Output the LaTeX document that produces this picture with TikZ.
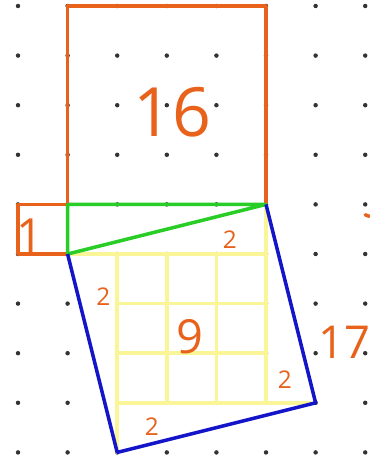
\documentclass[tikz,border=0pt]{standalone}
\usepackage{fontspec}
\setmainfont{Open Sans}

\definecolor{pen orange}{RGB}{232,98,28}
\definecolor{pen green}{RGB}{40,205,40}
\definecolor{pen blue}{RGB}{20,20,200}
\definecolor{pen yellow}{RGB}{250,245,150}

\tikzset{
  orangeline/.style={draw=pen orange, line width=2pt, line join=round},
  greenline/.style={draw=pen green, line width=2pt, line join=round},
  blueline/.style={draw=pen blue, line width=2pt, line join=round},
  yellowline/.style={draw=pen yellow, line width=2pt, line cap=round},
  areanum/.style={text=pen orange, inner sep=0pt}
}

\begin{document}
\begin{tikzpicture}[x=1cm, y=-1cm]
    % Okraje obrazku
    \useasboundingbox (-0.363,-0.121) rectangle (7.077,9.153);
    \fill[white] (-0.363,-0.121) rectangle (7.077,9.153);

    % Teckovana mrizka
    \foreach \i in {0,...,7}
        \foreach \j in {0,...,9}
            \fill[black!80] (\i,\j) circle (0.045);

    % Vrcholy trojuhelniku a ctvercu
    \coordinate (A) at (1,4);
    \coordinate (B) at (5,4);
    \coordinate (C) at (1,5);
    \coordinate (D) at (2,9);
    \coordinate (E) at (6,8);

    % Zluta sit uvnitr sikmeho ctverce
    \draw[yellowline] (C) -- (5,5);
    \draw[yellowline] (5,4.1) -- (5,8);
    \draw[yellowline] (2,8) -- (5.9,8);
    \draw[yellowline] (2,5) -- (D);
    \foreach \k in {3,4}
        \draw[yellowline] (\k,5) -- (\k,8);
    \foreach \k in {6,7}
        \draw[yellowline] (2,\k) -- (5,\k);

    % Ctverec nad delsi odvesnou
    \draw[orangeline] (A) -- (1,0) -- (5,0) -- (B);
    % Ctverec nad kratsi odvesnou
    \draw[orangeline] (A) -- (0,4) -- (0,5) -- (C);

    % Pravouhly trojuhelnik
    \draw[greenline] (A) -- (B) -- (C) -- cycle;

    % Ctverec nad preponou
    \draw[blueline] (B) -- (E) -- (D) -- (C);

    % Obsahy
    \node[areanum, font=\fontsize{39}{39}\selectfont] (n16) at (3.12,2.14) {16};
    \node[areanum, font=\fontsize{27}{27}\selectfont] (n1) at (0.25,4.63) {1};
    \node[areanum, font=\fontsize{27}{27}\selectfont] (n9) at (3.47,6.67) {9};
    \node[areanum, font=\fontsize{26}{26}\selectfont] (n17) at (6.58,6.79) {17};
    \node[areanum, font=\fontsize{14}{14}\selectfont] (ta) at (4.27,4.72) {2};
    \node[areanum, font=\fontsize{14}{14}\selectfont] (tb) at (1.72,5.87) {2};
    \node[areanum, font=\fontsize{14}{14}\selectfont] (tc) at (5.38,7.54) {2};
    \node[areanum, font=\fontsize{14}{14}\selectfont] (td) at (2.70,8.49) {2};

    % Oriznuta znacka u praveho okraje
    \draw[orangeline, line cap=round] (7.00,4.21) -- (7.08,4.24);
\end{tikzpicture}
\end{document}
